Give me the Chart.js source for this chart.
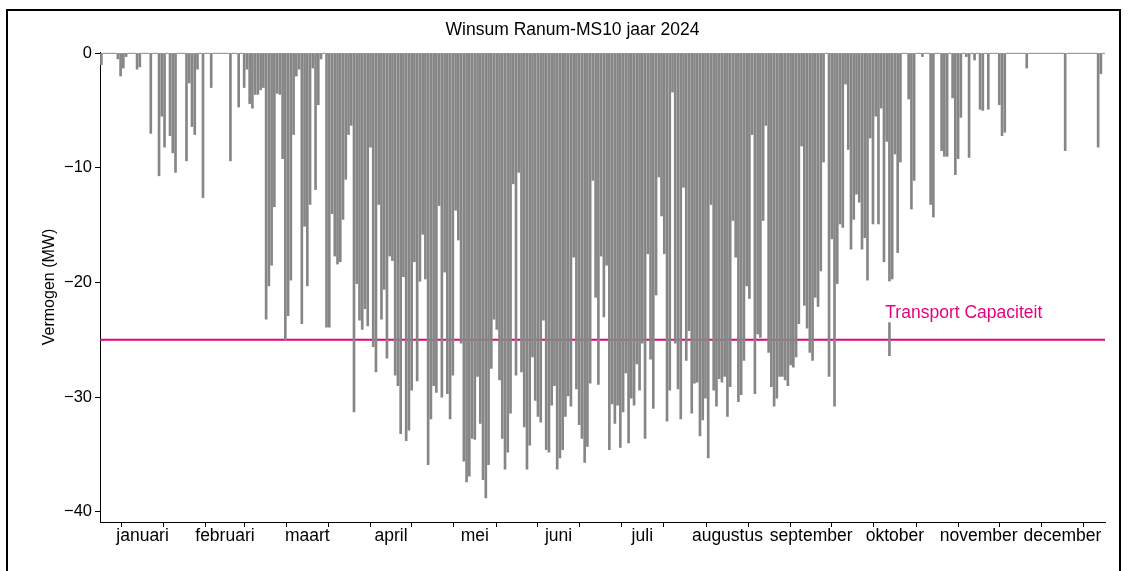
<!DOCTYPE html>
<html>
<head>
<meta charset="utf-8">
<script src="https://cdn.jsdelivr.net/npm/chart.js@4.4.1/dist/chart.umd.min.js"></script>
<style>
    html, body { margin: 0; padding: 0; background: #fff; overflow: hidden; }
    #frame { position: absolute; left: 6px; top: 9px; width: 1111px; height: 570px; border: 2px solid #000; border-bottom: none; }
    #chartBox { position: absolute; left: 0; top: 0; width: 1111px; height: 555px; }
</style>
</head>
<body>
<div id="frame"><div id="chartBox"><canvas id="power-chart" width="1111" height="555"></canvas></div></div>
<script>
// daily peak feed-in (MW, negative = feed-in)
var monthNames = ['januari', 'februari', 'maart', 'april', 'mei', 'juni',
    'juli', 'augustus', 'september', 'oktober', 'november', 'december'];

var jan = [-1.0, 0, 0, 0, 0, 0, -0.5, -2.0, -1.3, -0.3, 0, 0, 0, -1.4, -1.2, 0,
    0, 0, -7.0, 0, 0, -10.7, -5.5, -8.2, 0, -7.2, -8.7, -10.4, 0, 0, 0];
var feb = [-9.4, -2.6, -6.4, -7.1, -1.4, 0, -12.6, 0, 0, -3.0, 0, 0, 0, 0, 0,
    0, -9.4, 0, 0, -4.7, 0, -3.0, -1.4, -4.4, -4.8, -3.6, -3.6, -3.2, -3.0];
var mar = [-23.2, -20.3, -18.5, -13.4, -3.5, -3.6, -9.2, -25.0, -22.9, -19.8, -7.1,
    -2.0, -1.4, -23.6, -15.1, -20.3, -13.2, -1.3, -11.9, -4.5, -0.5, 0, -23.9,
    -23.9, -14.0, -17.7, -18.4, -18.2, -14.5, -11.0, -7.1];
var apr = [-6.3, -31.3, -20.1, -23.3, -24.1, -22.3, -23.8, -8.2, -25.6, -27.8,
    -13.2, -23.2, -20.6, -26.6, -17.7, -18.1, -28.1, -29.0, -33.2, -19.5, -33.8,
    -32.9, -29.4, -18.2, -28.6, -19.9, -15.8, -19.7, -35.9, -31.9];
var mei = [-29.0, -29.6, -13.3, -30.0, -19.1, -29.7, -31.9, -28.1, -13.7, -16.3,
    -25.3, -35.6, -37.4, -36.9, -33.6, -33.7, -28.2, -32.3, -37.2, -38.8, -35.9,
    -27.5, -23.2, -24.1, -28.5, -33.6, -36.3, -34.8, -31.4, -11.4, -28.1];
var jun = [-10.4, -27.8, -32.6, -36.3, -34.2, -26.5, -30.3, -31.7, -32.2, -23.3,
    -34.6, -34.8, -30.7, -29.0, -36.3, -35.3, -34.6, -31.7, -29.9, -30.8, -17.8,
    -29.3, -32.4, -33.6, -35.7, -34.3, -28.8, -11.1, -21.3, -28.9];
var jul = [-17.7, -23.0, -18.5, -34.6, -30.6, -32.3, -30.7, -34.4, -31.3, -27.9,
    -34.0, -30.1, -30.7, -27.1, -29.4, -25.3, -33.6, -17.5, -26.7, -31.0, -21.1,
    -10.8, -14.2, -17.5, -32.1, -29.4, -3.4, -25.3, -29.3, -31.9, -11.7];
var aug = [-26.8, -24.2, -31.4, -28.8, -28.7, -33.4, -32.0, -30.1, -35.3, -13.2,
    -29.4, -30.8, -28.4, -28.7, -28.2, -31.7, -29.1, -14.6, -17.8, -30.4, -29.8,
    -26.8, -20.3, -21.4, -7.1, -29.7, -24.5, -24.8, -14.6, -6.3, -26.1];
var sep = [-29.1, -30.8, -30.1, -28.2, -28.2, -28.5, -29.0, -27.2, -27.4, -26.5,
    -23.6, -8.1, -22.0, -24.0, -26.1, -26.8, -21.3, -22.1, -19.0, -9.5, 0,
    -28.2, -16.2, -30.8, -20.1, -14.9, -15.2, -2.7, -8.4, -17.1];
var okt = [-14.5, -12.3, -13.0, -17.1, -16.1, -19.8, -7.4, -14.9, -5.5, -14.9,
    -4.8, -18.2, -7.7, -26.4, -19.7, -8.8, -17.4, -9.5, 0, 0, -4.0, -13.6, -11.1,
    0, 0, -0.3, 0, 0, -13.2, -14.3, 0];
var nov = [0, -8.5, -9.0, -9.0, 0, -3.9, -10.6, -9.2, -5.6, 0, -0.3, -9.1, 0,
    -0.6, 0, -4.9, -5.0, 0, -4.9, 0, 0, 0, -4.5, -7.2, -6.9, 0, 0, 0, 0, 0];
var dec = [0, 0, -1.3, 0, 0, 0, 0, 0, 0, 0, 0, 0, 0, 0, 0, 0, -8.5, 0, 0, 0, 0,
    0, 0, 0, 0, 0, 0, 0, -8.2, -1.8, 0];

var yTickValues = [0, -10, -20, -30, -40];
var capacity = -25;
var capacityText = 'Transport Capaciteit';
var capacityTextAt = { x: 286, y: -22.7 };

var pink = '#e6007e';
Chart.defaults.font.family = "'Liberation Sans', Arial, sans-serif";
Chart.defaults.color = '#000';

// build day points and month ticks
var months = [jan, feb, mar, apr, mei, jun, jul, aug, sep, okt, nov, dec];
var points = [];
var xTicks = [];
var midLabels = {};
var day = 0;
months.forEach(function (m, i) {
    xTicks.push({ value: day });
    var mid = day + m.length / 2;
    xTicks.push({ value: mid });
    midLabels[mid] = monthNames[i];
    m.forEach(function (v) {
        points.push({ x: day + 0.5, y: v });
        day++;
    });
});
xTicks.push({ value: day });
var totalDays = day;

var capacityLabel = {
    id: 'capacityLabel',
    afterDatasetsDraw: function (chart) {
        var ctx = chart.ctx;
        var px = chart.scales.x.getPixelForValue(capacityTextAt.x);
        var py = chart.scales.y.getPixelForValue(capacityTextAt.y);
        ctx.save();
        ctx.font = '17.5px ' + Chart.defaults.font.family;
        var w = ctx.measureText(capacityText).width;
        ctx.fillStyle = '#fff';
        ctx.fillRect(px - 5, py - 32, w + 10, 41);
        ctx.fillStyle = pink;
        ctx.textAlign = 'left';
        ctx.textBaseline = 'middle';
        ctx.fillText(capacityText, px, py);
        ctx.restore();
    }
};

var ctx = document.getElementById('power-chart').getContext('2d');
var powerChart = new Chart(ctx, {
    type: 'bar',
    data: {
        datasets: [{
            type: 'bar',
            data: points,
            backgroundColor: 'rgb(134,134,134)',
            borderWidth: 0,
            barThickness: 2,
            order: 1
        }, {
            type: 'line',
            data: [{ x: 0, y: capacity }, { x: totalDays, y: capacity }],
            borderColor: pink,
            borderWidth: 2,
            pointRadius: 0,
            order: 2
        }]
    },
    options: {
        responsive: false,
        animation: false,
        layout: { padding: { left: 32, right: 14, top: 0, bottom: 14 } },
        plugins: {
            legend: { display: false },
            tooltip: { enabled: false },
            title: {
                display: true,
                text: 'Winsum Ranum-MS10 jaar 2024',
                font: { size: 17.5, weight: 'normal' },
                color: '#000',
                padding: { top: 9, bottom: 11 }
            }
        },
        scales: {
            x: {
                type: 'linear',
                min: 0,
                max: totalDays,
                offset: false,
                border: { color: '#000', width: 1 },
                grid: { drawOnChartArea: false, drawTicks: true, tickLength: 5, color: '#000' },
                ticks: {
                    autoSkip: false,
                    maxRotation: 0,
                    padding: -1,
                    font: { size: 17.5 },
                    color: '#000',
                    callback: function (value) {
                        return midLabels[value] || '';
                    }
                },
                afterBuildTicks: function (scale) {
                    scale.ticks = xTicks.map(function (t) { return { value: t.value }; });
                },
                afterFit: function (scale) {
                    scale.height = 30;
                }
            },
            y: {
                min: -40.9,
                max: 0.1,
                border: { color: '#000', width: 1 },
                grid: {
                    drawTicks: true,
                    tickLength: 5,
                    tickColor: '#000',
                    color: function (c) {
                        return c.tick && c.tick.value === 0 ? '#b4b4b4' : 'rgba(0,0,0,0)';
                    }
                },
                ticks: {
                    padding: 3,
                    font: { size: 16.5 },
                    color: '#000',
                    callback: function (value) {
                        return value < 0 ? '\u2212' + Math.abs(value) : String(value);
                    }
                },
                title: {
                    display: true,
                    text: 'Vermogen (MW)',
                    font: { size: 16 },
                    color: '#000',
                    padding: 0
                },
                afterBuildTicks: function (scale) {
                    scale.ticks = yTickValues.map(function (v) { return { value: v }; });
                },
                afterFit: function (scale) {
                    scale.width = 60;
                }
            }
        }
    },
    plugins: [capacityLabel]
});
</script>
</body>
</html>
